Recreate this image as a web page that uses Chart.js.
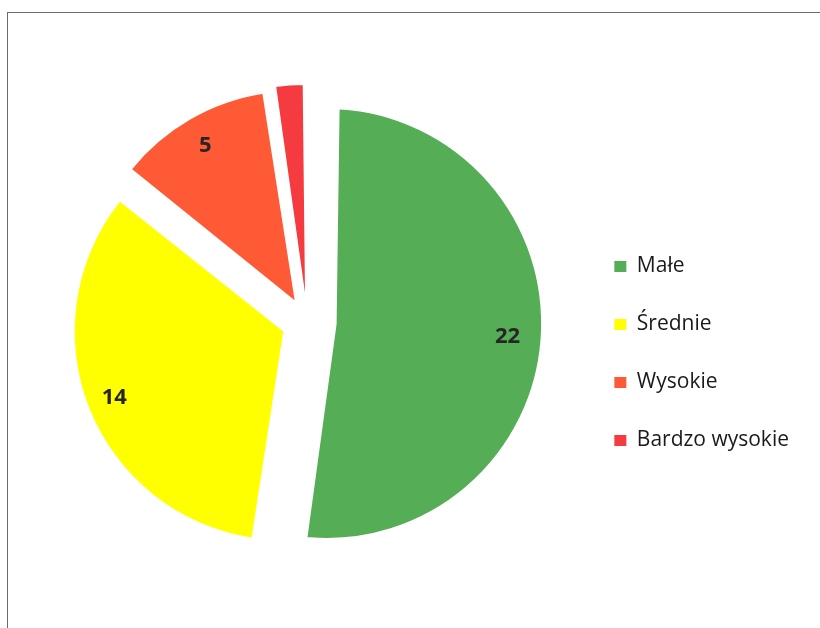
<!DOCTYPE html>
<html>
<head>
<meta charset="utf-8">
<script src="https://cdn.jsdelivr.net/npm/chart.js@4"></script>
<style>
  html, body { margin: 0; padding: 0; background: #fff; overflow: hidden; }
  #wrap { position: relative; width: 820px; height: 628px; }
  #frame { position: absolute; left: 7px; top: 12px; width: 900px; height: 700px;
           border-left: 1px solid #6b6b6b; border-top: 1px solid #6b6b6b; box-sizing: border-box; }
  #box { position: absolute; left: 0; top: 0; width: 820px; height: 628px; }
</style>
</head>
<body>
<div id="wrap">
  <div id="frame"></div>
  <div id="box"><canvas id="c"></canvas></div>
</div>
<script>
// ---- data ----
const categories = ['Małe', 'Średnie', 'Wysokie', 'Bardzo wysokie'];
const values = [22, 14, 5, 1];
const showValueLabel = [true, true, true, false];
const sliceColors = ['#55AD55', '#FFFF00', '#FF5A36', '#F53A40'];

// ---- style ----
const sliceOffsets = [78, 103, 90, 71];
const sliceBorders = [20, 0, 1.8, 1.5];

const valueLabelPlugin = {
  id: 'valueLabels',
  afterDatasetsDraw(chart) {
    const meta = chart.getDatasetMeta(0);
    const ds = chart.data.datasets[0];
    const ctx = chart.ctx;
    ctx.save();
    ctx.font = 'bold 22px "Open Sans"';
    ctx.fillStyle = '#262626';
    ctx.textAlign = 'center';
    ctx.textBaseline = 'middle';
    meta.data.forEach((arc, i) => {
      if (!showValueLabel[i]) return;
      const p = arc.getProps(['x', 'y', 'startAngle', 'endAngle', 'outerRadius'], true);
      const mid = (p.startAngle + p.endAngle) / 2;
      const r = ds.offset[i] / 4 + 0.885 * p.outerRadius;
      ctx.fillText(String(ds.data[i]), p.x + Math.cos(mid) * r, p.y + Math.sin(mid) * r);
    });
    ctx.restore();
  }
};

new Chart(document.getElementById('c'), {
  type: 'pie',
  data: {
    labels: categories,
    datasets: [{
      data: values,
      backgroundColor: sliceColors,
      borderColor: '#ffffff',
      borderWidth: sliceBorders,
      offset: sliceOffsets,
      hoverOffset: 0,
      radius: 205,
      clip: false
    }]
  },
  options: {
    responsive: true,
    maintainAspectRatio: false,
    animation: false,
    layout: { padding: { left: 37, right: 21, top: 16, bottom: 0 } },
    plugins: {
      tooltip: { enabled: false },
      legend: {
        position: 'right',
        title: { display: true, text: ' ', font: { size: 10, lineHeight: 1 }, padding: { top: 53, bottom: 0 } },
        labels: {
          boxWidth: 12,
          boxHeight: 11,
          padding: 37,
          color: '#1a1a1a',
          font: { family: '"Open Sans"', size: 21 },
          generateLabels(chart) {
            const items = Chart.overrides.pie.plugins.legend.labels.generateLabels(chart);
            return items.map(it => Object.assign(it, { lineWidth: 0, strokeStyle: it.fillStyle }));
          }
        }
      }
    }
  },
  plugins: [valueLabelPlugin]
});
</script>
</body>
</html>
